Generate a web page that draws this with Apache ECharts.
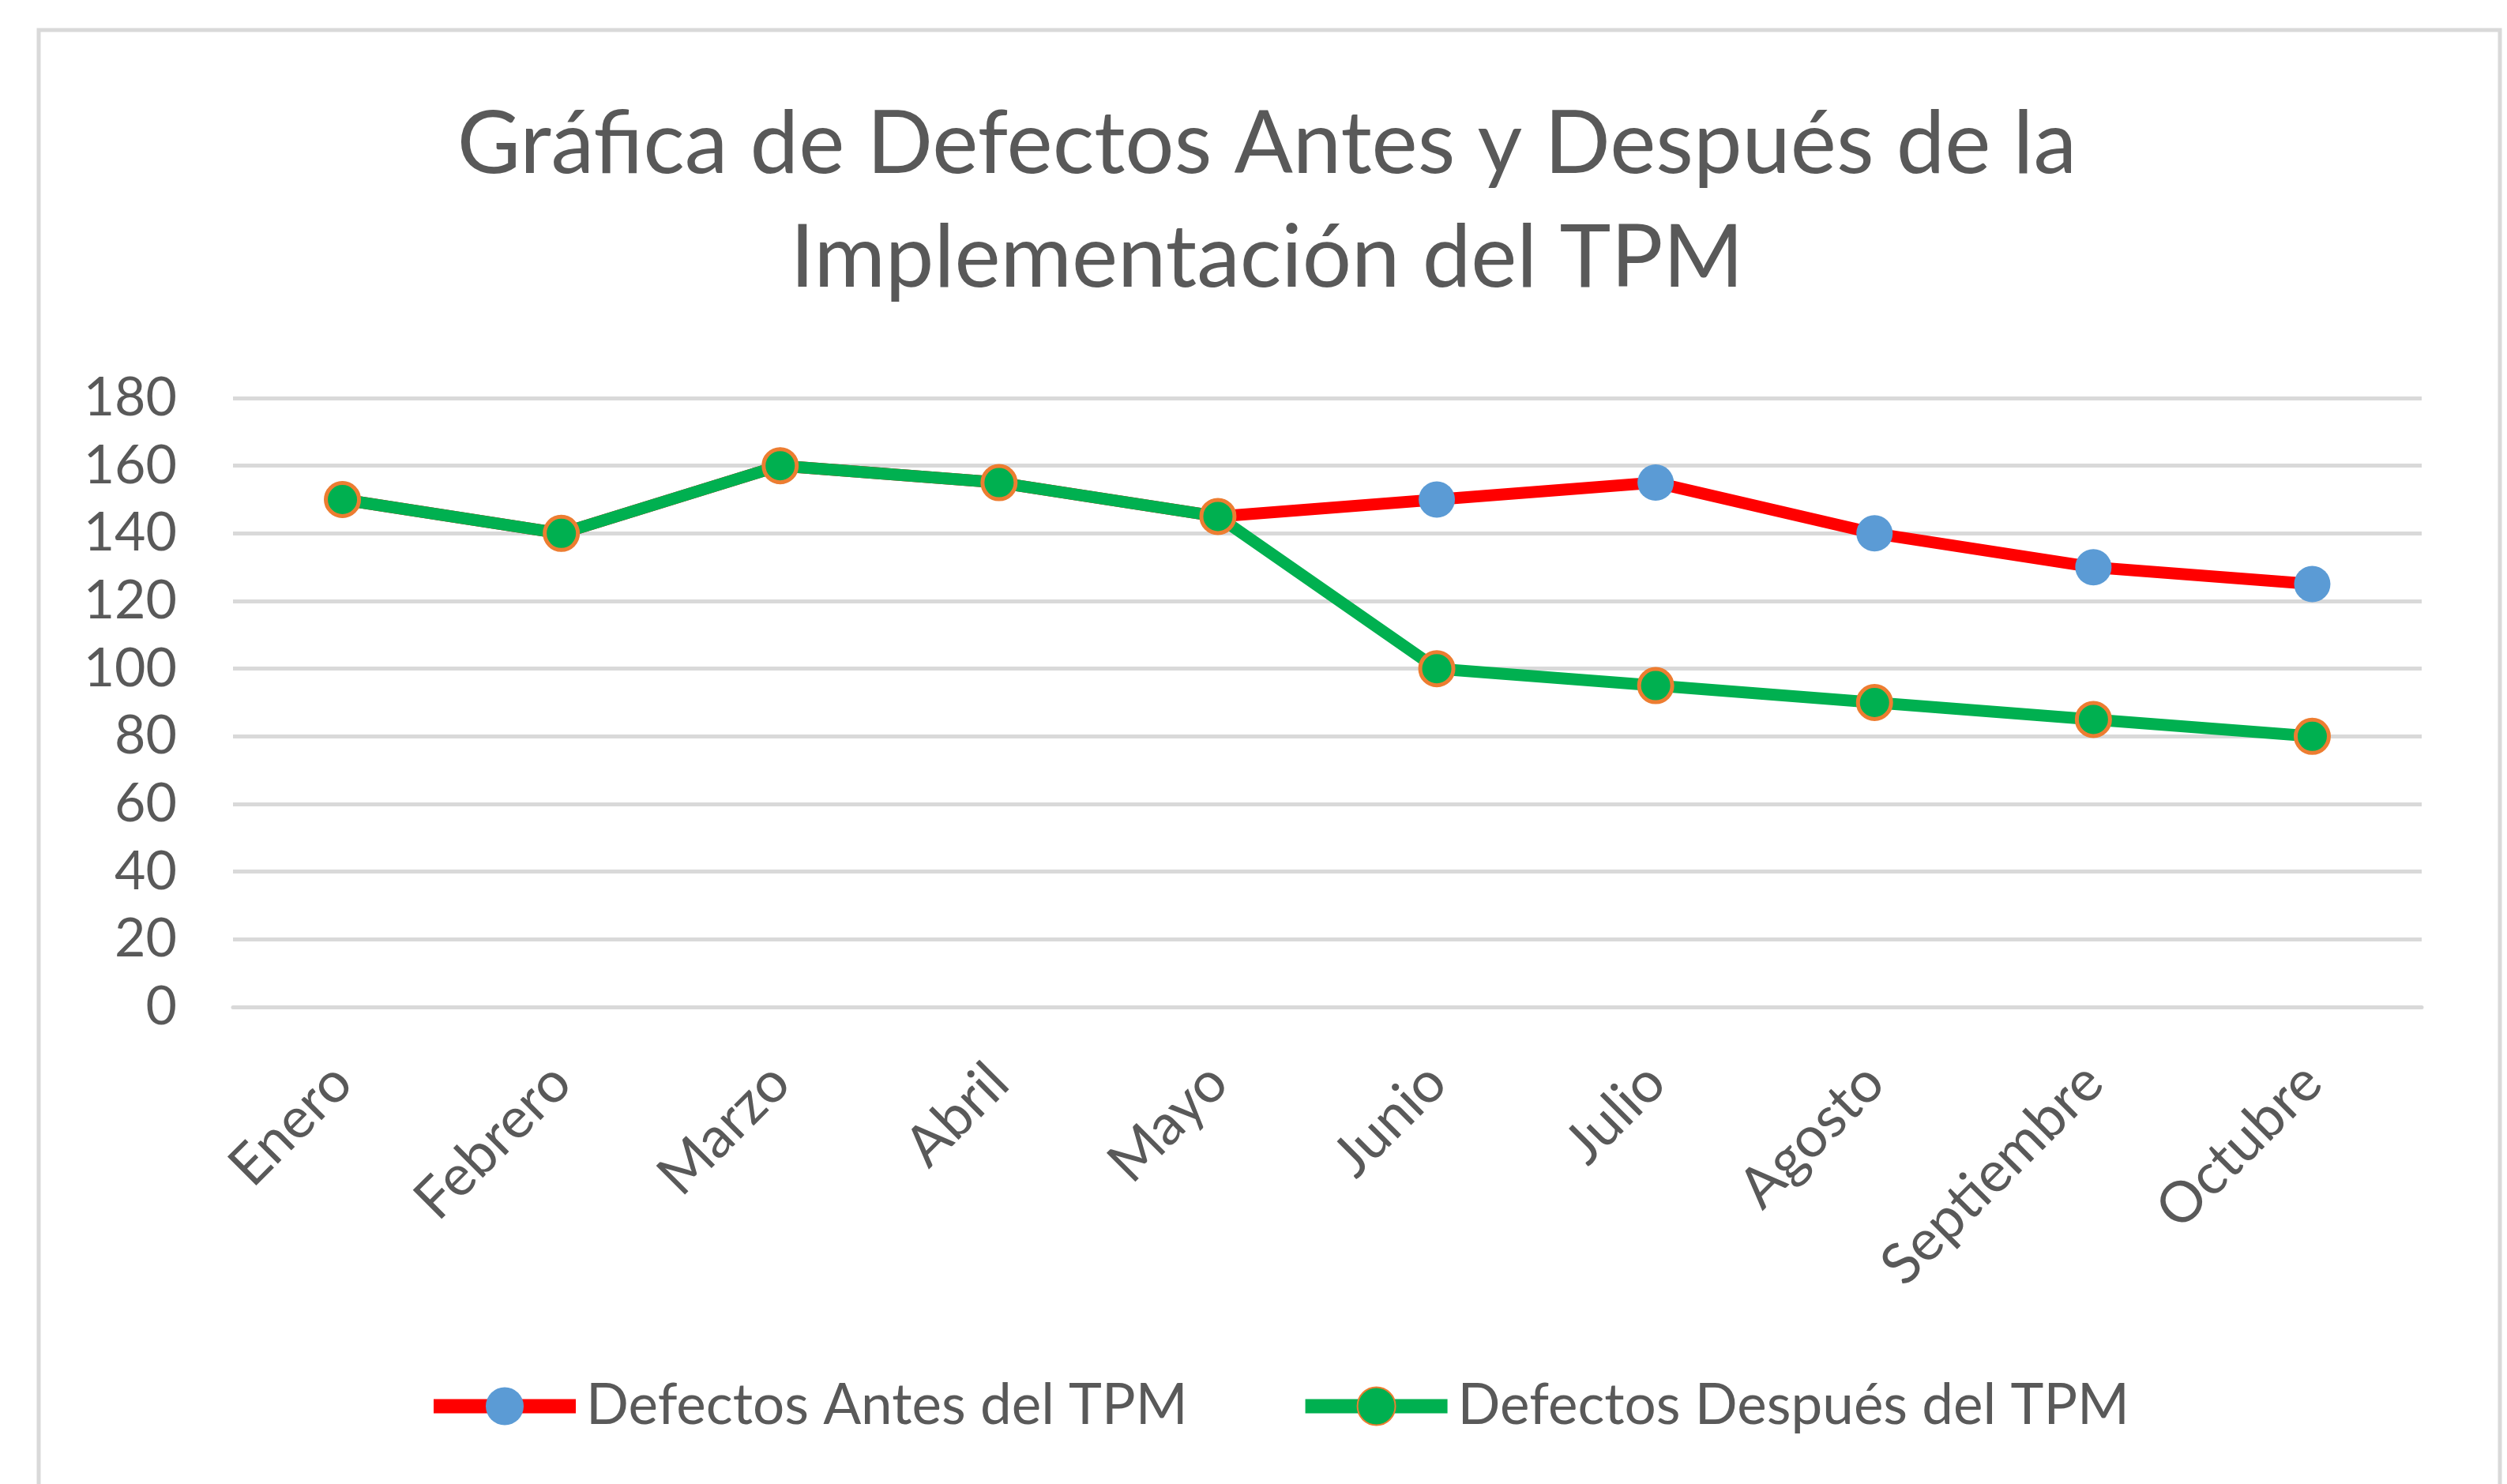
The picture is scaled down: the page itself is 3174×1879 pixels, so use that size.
<!DOCTYPE html>
<html>
<head>
<meta charset="utf-8">
<script src="https://cdn.jsdelivr.net/npm/echarts@6/dist/echarts.min.js"></script>
<style>
  html, body { margin: 0; padding: 0; background: #fff; }
  #chart { width: 3174px; height: 1879px; }
</style>
</head>
<body>
<div id="chart"></div>
<script>
// datos
const meses = ['Enero', 'Febrero', 'Marzo', 'Abril', 'Mayo', 'Junio', 'Julio', 'Agosto', 'Septiembre', 'Octubre'];
const defectosAntes = [150, 140, 160, 155, 145, 150, 155, 140, 130, 125];
const defectosDespues = [150, 140, 160, 155, 145, 100, 95, 90, 85, 80];
const nombreAntes = 'Defectos Antes del TPM';
const nombreDespues = 'Defectos Después del TPM';
const titulo = 'Gráfica de Defectos Antes y Después de la\nImplementación del TPM';

const fuente = 'Lato';
const gris = '#595959';
const grisLinea = '#d9d9d9';

const chart = echarts.init(document.getElementById('chart'));
chart.setOption({
  backgroundColor: '#fff',
  animation: false,
  textStyle: { fontFamily: fuente },
  graphic: [{
    // marco del gráfico
    type: 'rect',
    shape: { x: 49, y: 38, width: 3116, height: 1900 },
    style: { fill: 'none', stroke: grisLinea, lineWidth: 5 },
    silent: true,
  }],
  title: {
    text: titulo,
    left: 1604,
    top: 112,
    padding: 0,
    textAlign: 'center',
    textStyle: {
      fontFamily: fuente,
      fontSize: 110,
      fontWeight: 'normal',
      color: gris,
      lineHeight: 144,
    },
  },
  legend: {
    bottom: 58,
    left: 535,
    itemWidth: 180,
    itemHeight: 60,
    itemGap: 140,
    lineStyle: { width: 18 },
    textStyle: { fontFamily: fuente, fontSize: 71, color: gris, padding: [0, 0, 0, 8] },
    data: [nombreAntes, nombreDespues],
  },
  grid: {
    left: 295,
    right: 108,
    top: 504,
    bottom: 604,
  },
  xAxis: {
    type: 'category',
    data: meses,
    boundaryGap: true,
    axisLine: { lineStyle: { color: grisLinea, width: 5 } },
    axisTick: { show: false },
    axisLabel: {
      rotate: 45,
      margin: 84,
      interval: 0,
      fontFamily: fuente,
      fontSize: 72,
      color: gris,
    },
  },
  yAxis: {
    type: 'value',
    min: 0,
    max: 180,
    interval: 20,
    axisLine: { show: false },
    axisTick: { show: false },
    axisLabel: { margin: 71, fontFamily: fuente, fontSize: 68, color: gris },
    splitLine: { lineStyle: { color: grisLinea, width: 5 } },
  },
  series: [
    {
      name: nombreAntes,
      type: 'line',
      data: defectosAntes,
      symbol: 'circle',
      symbolSize: 46,
      lineStyle: { color: '#ff0000', width: 15 },
      itemStyle: { color: '#5b9bd5', borderWidth: 0 },
      z: 2,
    },
    {
      name: nombreDespues,
      type: 'line',
      data: defectosDespues,
      symbol: 'circle',
      symbolSize: 42,
      lineStyle: { color: '#00b050', width: 15 },
      itemStyle: { color: '#00b050', borderColor: '#ed7d31', borderWidth: 5 },
      z: 3,
    },
  ],
});
</script>
</body>
</html>
